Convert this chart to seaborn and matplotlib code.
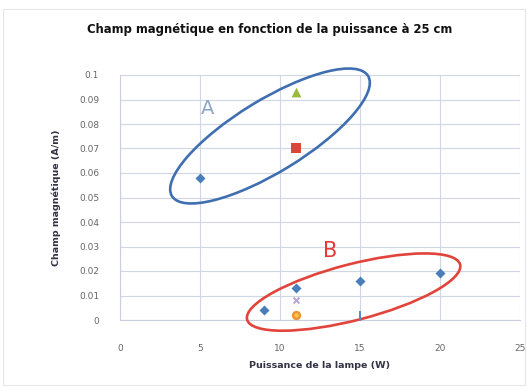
import matplotlib
matplotlib.use("Agg")
import matplotlib.pyplot as plt
from matplotlib.patches import Ellipse, Rectangle
from matplotlib.transforms import ScaledTranslation
import seaborn as sns
import pandas as pd

# Measurements: lamp power (W) vs magnetic field (A/m) at 25 cm
diamond_x = [5, 9, 11, 15, 20]
diamond_y = [0.058, 0.004, 0.013, 0.016, 0.019]
square_x = [11]
square_y = [0.070]
triangle_x = [11]
triangle_y = [0.093]
cross_x = [11]
cross_y = [0.0082]
circle_x = [11]
circle_y = [0.002]
dash_x = [15]
dash_y = [0.0018]

x_ticks = [0, 5, 10, 15, 20, 25]
y_ticks = [0, 0.01, 0.02, 0.03, 0.04, 0.05, 0.06, 0.07, 0.08, 0.09, 0.1]

sns.set_theme(style="white")
plt.rcParams["font.family"] = ["DejaVu Sans"]

W, H, DPI = 528, 388, 100
fig = plt.figure(figsize=(W / DPI, H / DPI), dpi=DPI)
fig.patch.set_facecolor("white")

left, right, top, bottom = 120, 520, 75, 320
ax = fig.add_axes([left / W, 1 - bottom / H, (right - left) / W, (bottom - top) / H])

series = [
    (diamond_x, diamond_y, "D", "#4a7ebb", 26),
    (square_x, square_y, "s", "#d9463a", 55),
    (triangle_x, triangle_y, "^", "#9bbb3c", 50),
    (cross_x, cross_y, "x", "#b8a6d8", 18),
    (circle_x, circle_y, "o", "#f0932e", 45),
    (dash_x, dash_y, "|", "#5a88c0", 60),
]
for xs, ys, mk, col, sz in series:
    df = pd.DataFrame({"P": xs, "B": ys})
    kw = dict(linewidth=0) if mk not in ("x", "|") else dict(linewidth=1.4)
    sns.scatterplot(data=df, x="P", y="B", marker=mk, color=col, s=sz,
                    ax=ax, zorder=4, **kw)
# yellow glint on the orange circle
sns.scatterplot(x=circle_x, y=circle_y, marker="o", color="#f7c948", s=10,
                linewidth=0, ax=ax, zorder=5)

ax.set_xlim(0, 25)
ax.set_ylim(0, 0.1)
ax.set_xticks(x_ticks)
ax.set_yticks(y_ticks)
ax.set_xticklabels([str(v) for v in x_ticks])
ax.set_yticklabels(["0"] + [f"{v:g}" for v in y_ticks[1:]])
ax.tick_params(axis="both", length=0, labelsize=6.5, labelcolor="#666666")
ax.tick_params(axis="x", pad=17)
ax.tick_params(axis="y", pad=15)
ax.grid(True, color="#cfd6e4", linewidth=0.8)
for side in ["top", "right"]:
    ax.spines[side].set_visible(False)
for side in ["left", "bottom"]:
    ax.spines[side].set_color("#c9cfdc")
    ax.spines[side].set_linewidth(0.8)

ax.set_xlabel("Puissance de la lampe (W)", fontsize=6.8, fontweight="bold",
              color="#333344", labelpad=6)
ax.set_ylabel("Champ magnétique (A/m)", fontsize=6.8, fontweight="bold",
              color="#333344", labelpad=13)

fig.text(270 / W, 1 - 30 / H, "Champ magnétique en fonction de la puissance à 25 cm",
         ha="center", va="center", fontsize=8.4, fontweight="bold", color="#111111")


def group_ellipse(cx, cy, a_px, b_px, angle, color):
    """Outline ellipse centred in data coordinates, sized in pixels."""
    tr = fig.dpi_scale_trans + ScaledTranslation(cx, cy, ax.transData)
    e = Ellipse((0, 0), 2 * a_px / DPI, 2 * b_px / DPI, angle=angle,
                fill=False, edgecolor=color, linewidth=1.9, transform=tr,
                zorder=3, clip_on=False)
    ax.add_patch(e)


group_ellipse(9.375, 0.0751, 115, 36, 31.5, "#3f6fb0")
group_ellipse(14.6, 0.0114, 110, 28, 14.5, "#e0443a")

ax.text(5.5, 0.0865, "A", fontsize=14, color="#8fa6c8", ha="center", va="center")
ax.text(13.15, 0.0282, "B", fontsize=15, color="#e03a3a", ha="center", va="center")

# chart-area frame
fig.add_artist(Rectangle((3 / W, 3 / H), 522 / W, (H - 12) / H, transform=fig.transFigure,
                         fill=False, edgecolor="#e6e6ea", linewidth=0.8))

fig.savefig("out.png", dpi=DPI, facecolor="white")
